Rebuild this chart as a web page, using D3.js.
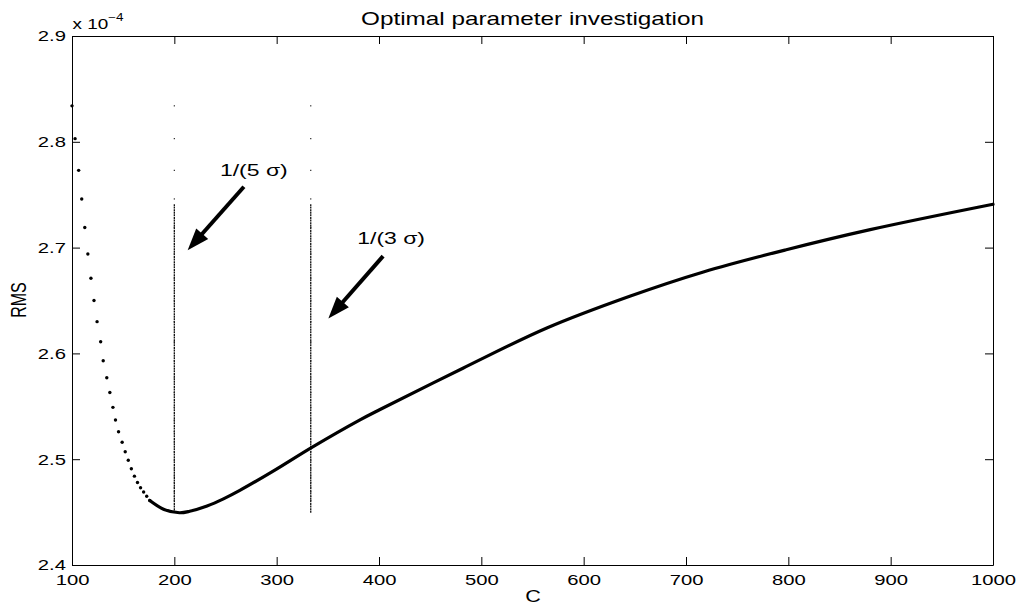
<!DOCTYPE html>
<html>
<head>
<meta charset="utf-8">
<script src="https://cdn.jsdelivr.net/npm/d3@7"></script>
<style>
  body { margin: 0; background: #fff; }
  text { font-family: "Liberation Sans", Arial, Helvetica, sans-serif; fill: #000; }
</style>
</head>
<body>
<div id="chart"></div>
<script>
// steep part of the curve, drawn as separate dots
const cDots = [100, 103, 106.5, 109.5, 112.5, 115.5, 118.5, 121.5, 124.5, 128, 130.5, 134, 137, 140, 142.5, 145.5, 149, 152, 155, 158, 161, 164, 167, 170, 173, 176];
const rmsDots = [2.834, 2.803, 2.773, 2.746, 2.719, 2.694, 2.671, 2.650, 2.630, 2.611, 2.593, 2.577, 2.563, 2.549, 2.537, 2.526, 2.516, 2.507, 2.499, 2.491, 2.484, 2.478, 2.473, 2.469, 2.465, 2.461];

// dense part, where the dots merge into a line
const cCurve = [176, 190, 205, 215, 232, 248, 264, 297, 334, 381, 401, 482, 564, 645, 717, 798, 880, 1000];
const rmsCurve = [2.461, 2.4525, 2.4494, 2.4508, 2.4558, 2.4625, 2.4705, 2.489, 2.511, 2.537, 2.547, 2.586, 2.624, 2.654, 2.677, 2.698, 2.717, 2.741];

// C = 1/(k sigma), sigma = 0.001
const sigmaC = [200, 333.3];
const sigmaLabels = ['1/(5 σ)', '1/(3 σ)'];
const labelPos = [[244.6, 2.768], [378.8, 2.7035]];
const arrowFrom = [[268, 2.7575], [404, 2.692]];
const arrowTo = [[213, 2.6975], [350.5, 2.633]];

const xTicks = [100, 200, 300, 400, 500, 600, 700, 800, 900, 1000];
const yTicks = [2.4, 2.5, 2.6, 2.7, 2.8, 2.9];

const width = 1017, height = 605;
const SX = 1.35; // the text in the picture is stretched sideways

const svg = d3.select('#chart').append('svg')
  .attr('width', width)
  .attr('height', height);

const x = d3.scaleLinear().domain([100, 1000]).range([72, 993]);
const y = d3.scaleLinear().domain([2.4, 2.9]).range([565, 36]);

// axes, ticks inside on all four sides
const styleAxis = g => {
  g.select('.domain').attr('stroke', '#000').attr('stroke-width', 1);
  g.selectAll('.tick line').attr('stroke', '#000');
};

svg.append('g')
  .attr('transform', 'translate(0,565)')
  .call(d3.axisBottom(x).tickValues(xTicks).tickSizeInner(-8).tickSizeOuter(0).tickPadding(9).tickFormat(d3.format('d')))
  .call(styleAxis)
  .call(g => g.selectAll('.tick text')
    .attr('font-size', 15)
    .attr('font-family', '"Liberation Sans", Arial, sans-serif')
    .attr('fill', '#000')
    .attr('transform', `scale(${SX},1)`));

svg.append('g')
  .attr('transform', 'translate(72,0)')
  .call(d3.axisLeft(y).tickValues(yTicks).tickSizeInner(-8).tickSizeOuter(0).tickPadding(4.5).tickFormat(d3.format('.1f')))
  .call(styleAxis)
  .call(g => g.selectAll('.tick text')
    .attr('font-size', 15)
    .attr('font-family', '"Liberation Sans", Arial, sans-serif')
    .attr('fill', '#000')
    .attr('transform', `scale(${SX},1)`));

svg.append('g')
  .attr('transform', 'translate(0,36)')
  .call(d3.axisTop(x).tickValues(xTicks).tickSizeInner(-8).tickSizeOuter(0).tickFormat(''))
  .call(styleAxis);

svg.append('g')
  .attr('transform', 'translate(993,0)')
  .call(d3.axisRight(y).tickValues(yTicks).tickSizeInner(-8).tickSizeOuter(0).tickFormat(''))
  .call(styleAxis);

// exponent
const expo = svg.append('text')
  .attr('transform', `translate(72.5,29) scale(${SX},1)`)
  .attr('font-size', 14);
expo.append('tspan').text('x 10');
expo.append('tspan').attr('dy', -8).attr('font-size', 10).text('\u22124');

// title and axis labels
svg.append('text')
  .attr('transform', `translate(532.5,25) scale(${SX},1)`)
  .attr('text-anchor', 'middle')
  .attr('font-size', 18)
  .text('Optimal parameter investigation');

svg.append('text')
  .attr('transform', `translate(533,602) scale(${SX},1)`)
  .attr('text-anchor', 'middle')
  .attr('font-size', 16)
  .text('C');

svg.append('text')
  .attr('transform', `translate(26,300) scale(${SX},1) rotate(-90)`)
  .attr('text-anchor', 'middle')
  .attr('font-size', 16)
  .text('RMS');

// vertical marker lines at C = 1/(5 sigma) and 1/(3 sigma)
const curveMin = d3.min(rmsCurve), curveMax = d3.max(rmsCurve);
svg.selectAll('.vline')
  .data(sigmaC)
  .enter().append('line')
    .attr('class', 'vline')
    .attr('x1', d => x(d))
    .attr('x2', d => x(d))
    .attr('y1', y(curveMin))
    .attr('y2', y(curveMax))
    .attr('stroke', '#111')
    .attr('stroke-width', 1.3)
    .attr('stroke-dasharray', '2,0.6');

sigmaC.forEach(c => {
  svg.selectAll(null)
    .data(rmsDots)
    .enter().append('rect')
      .attr('x', x(c) - 0.6)
      .attr('y', d => y(d) - 0.6)
      .attr('width', 1.2)
      .attr('height', 1.2)
      .attr('fill', '#222');
});

// the curve
const line = d3.line()
  .x((d, i) => x(cCurve[i]))
  .y(d => y(d))
  .curve(d3.curveCatmullRom.alpha(0.5));

svg.append('path')
  .datum(rmsCurve)
  .attr('d', line)
  .attr('fill', 'none')
  .attr('stroke', '#000')
  .attr('stroke-width', 3.2)
  .attr('stroke-linecap', 'round');

svg.selectAll('.dot')
  .data(rmsDots)
  .enter().append('circle')
    .attr('class', 'dot')
    .attr('cx', (d, i) => x(cDots[i]))
    .attr('cy', d => y(d))
    .attr('r', 1.7)
    .attr('fill', '#000');

// annotations with arrows
sigmaLabels.forEach((label, i) => {
  svg.append('text')
    .attr('transform', `translate(${x(labelPos[i][0])},${y(labelPos[i][1])}) scale(${SX},1)`)
    .attr('font-size', 17)
    .text(label);

  const x0 = x(arrowFrom[i][0]), y0 = y(arrowFrom[i][1]);
  const x1 = x(arrowTo[i][0]), y1 = y(arrowTo[i][1]);
  const len = Math.hypot(x1 - x0, y1 - y0);
  const ux = (x1 - x0) / len, uy = (y1 - y0) / len;
  const headLen = 22, headHalf = 8;
  const bx = x1 - ux * headLen, by = y1 - uy * headLen;

  svg.append('line')
    .attr('x1', x0).attr('y1', y0)
    .attr('x2', bx + ux * 2).attr('y2', by + uy * 2)
    .attr('stroke', '#000')
    .attr('stroke-width', 4);

  svg.append('path')
    .attr('d', `M${x1},${y1}L${bx - uy * headHalf},${by + ux * headHalf}L${bx + uy * headHalf},${by - ux * headHalf}Z`)
    .attr('fill', '#000');
});
</script>
</body>
</html>
